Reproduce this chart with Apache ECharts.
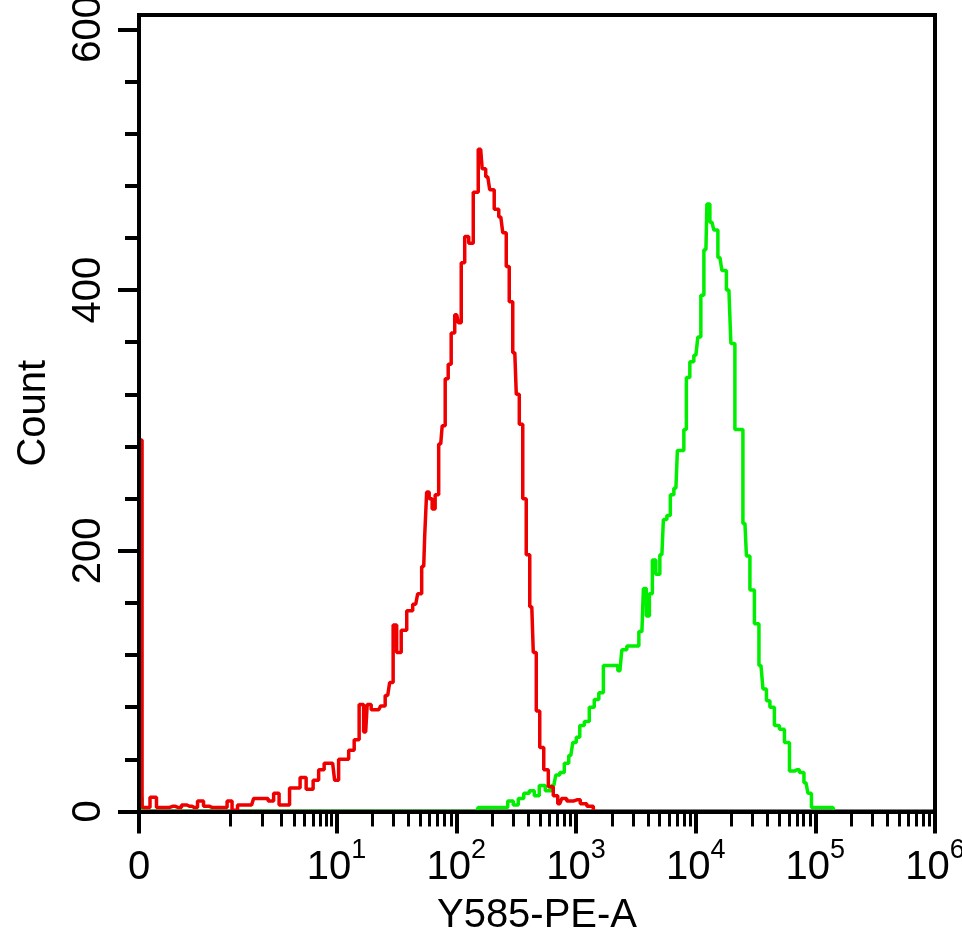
<!DOCTYPE html>
<html>
<head>
<meta charset="utf-8">
<script src="https://cdn.jsdelivr.net/npm/echarts@6/dist/echarts.min.js"></script>
<style>
  html, body { margin: 0; padding: 0; background: #fff; }
  #chart { width: 962px; height: 941px; }
</style>
</head>
<body>
<div id="chart"></div>
<script>
// x is a display scale in decades: "0" sits at 0, 10^k sits at k + zeroOffset
const zeroOffset = 0.651;
const tickExponents = [0, 1, 2, 3, 4, 5, 6];   // 0 means the "0" label
const countTicks = [0, 200, 400, 600];
const countMinorTicks = [40, 80, 120, 160, 240, 280, 320, 360, 440, 480, 520, 560];

// unstained / isotype control (red)
const redX = [0, 0.013, 0.038, 0.063, 0.121, 0.171, 0.222, 0.280, 0.330, 0.380, 0.422, 0.464,
  0.514, 0.564, 0.615, 0.665, 0.715, 0.757, 0.798, 0.849, 0.899, 0.941, 0.974, 1.024, 1.058,
  1.100, 1.150, 1.191, 1.233, 1.283, 1.325, 1.367, 1.426, 1.484, 1.518, 1.576, 1.618, 1.651,
  1.685, 1.727, 1.777, 1.819, 1.860, 1.894, 1.919, 1.961, 2.003, 2.036, 2.078, 2.111, 2.136,
  2.170, 2.212, 2.262, 2.312, 2.345, 2.379, 2.395, 2.412, 2.437, 2.462, 2.487, 2.521, 2.546,
  2.571, 2.596, 2.621, 2.655, 2.680, 2.705, 2.738, 2.772, 2.814, 2.855, 2.880, 2.914, 2.947,
  2.989, 3.023, 3.056, 3.081, 3.106, 3.140, 3.165, 3.190, 3.223, 3.248, 3.282, 3.307, 3.332,
  3.365, 3.399, 3.441, 3.482, 3.516, 3.549, 3.599, 3.658, 3.717, 3.767, 3.825];
const redCount = [0, 285, 3, 3, 11, 3, 3, 4, 3, 5, 4, 3,
  8, 4, 3, 3, 3, 8, 1, 5, 5, 5, 10, 10, 10,
  8, 14, 5, 5, 18, 18, 26, 17, 24, 32, 37, 37, 24,
  40, 40, 47, 55, 82, 61, 82, 78, 78, 81, 89, 99, 143,
  122, 139, 154, 159, 167, 188, 211, 245, 240, 232, 243, 282, 296,
  332, 343, 367, 381, 375, 421, 441, 436, 475, 508, 493, 487, 477,
  462, 456, 444, 418, 391, 352, 320, 297, 240, 197, 157, 122, 77,
  49, 32, 19, 12, 6, 10, 8, 9, 6, 4, 0];

// stained sample (green)
const greenX = [0, 0.013, 0.038, 2.820, 2.847, 2.931, 3.056, 3.106, 3.148, 3.190, 3.240, 3.282,
  3.324, 3.365, 3.424, 3.466, 3.499, 3.533, 3.574, 3.608, 3.641, 3.666, 3.700, 3.742, 3.783,
  3.825, 3.859, 3.901, 3.942, 3.984, 4.018, 4.051, 4.101, 4.151, 4.202, 4.227, 4.252, 4.277,
  4.302, 4.335, 4.369, 4.394, 4.427, 4.452, 4.486, 4.511, 4.544, 4.561, 4.586, 4.619, 4.653,
  4.686, 4.703, 4.737, 4.753, 4.787, 4.820, 4.854, 4.887, 4.929, 4.962, 4.996, 5.029, 5.063,
  5.088, 5.121, 5.163, 5.197, 5.230, 5.255, 5.288, 5.330, 5.372, 5.414, 5.456, 5.497, 5.539,
  5.573, 5.606, 5.631, 5.715, 5.798, 5.823];
const greenCount = [0, 11, 0, 0, 3, 3, 3, 8, 5, 10, 14, 16,
  12, 20, 16, 20, 28, 30, 37, 43, 53, 57, 66, 69, 80,
  86, 91, 112, 112, 112, 108, 124, 127, 127, 138, 171, 150, 167,
  193, 182, 197, 224, 227, 243, 248, 277, 277, 293, 333, 345, 350,
  364, 396, 431, 466, 452, 446, 425, 415, 400, 359, 293, 293, 221,
  196, 170, 144, 112, 94, 85, 80, 66, 63, 53, 31, 32, 30,
  22, 14, 3, 3, 3, 0];

const FONT = '"Liberation Sans", Arial, sans-serif';
const xMax = 6 + zeroOffset;

const majorPos = tickExponents.map(k => k === 0 ? 0 : k + zeroOffset);
const minorPos = [];
// 1..9 in the compressed region near zero
for (let m = 1; m <= 9; m++) minorPos.push(0.765 + 0.886 * Math.log10(m));
for (let k = 1; k <= 5; k++) {
  for (let m = 2; m <= 9; m++) minorPos.push(k + zeroOffset + Math.log10(m));
}

const pairs = (xs, ys) => xs.map((x, i) => [x, ys[i]]);

const baseX = {
  type: 'value', min: 0, max: xMax, position: 'bottom', z: 5,
  splitLine: { show: false }
};
const baseY = {
  type: 'value', min: 0, max: 611, position: 'left', z: 5,
  splitLine: { show: false }
};

const chart = echarts.init(document.getElementById('chart'));
chart.setOption({
  animation: false,
  grid: {
    left: 139, right: 27, top: 15, bottom: 129.5,
    outerBoundsMode: 'none',
    containLabel: false,
    show: true, borderColor: '#000', borderWidth: 4, backgroundColor: '#fff'
  },
  xAxis: [
    Object.assign({}, baseX, {
      name: 'Y585-PE-A',
      nameLocation: 'middle',
      nameGap: 84,
      nameTextStyle: { color: '#000', fontSize: 40, fontFamily: FONT },
      axisLine: { lineStyle: { color: '#000', width: 4 } },
      axisTick: { customValues: majorPos, length: 22, lineStyle: { color: '#000', width: 4 } },
      axisLabel: {
        customValues: majorPos,
        margin: 26,
        color: '#000',
        fontFamily: FONT,
        formatter: v => {
          const k = Math.round(v - zeroOffset);
          if (v < 0.5) return '{b|0}';
          return '{b|10}{e|' + k + '}';
        },
        rich: {
          b: { fontSize: 40, lineHeight: 50, fontFamily: FONT, color: '#000', verticalAlign: 'bottom' },
          e: { fontSize: 27, lineHeight: 30, fontFamily: FONT, color: '#000', verticalAlign: 'top' }
        }
      }
    }),
    Object.assign({}, baseX, {
      axisLine: { show: false },
      axisTick: { customValues: minorPos, length: 15, lineStyle: { color: '#000', width: 3 } },
      axisLabel: { show: false }
    })
  ],
  yAxis: [
    Object.assign({}, baseY, {
      name: 'Count',
      nameLocation: 'middle',
      nameRotate: 90,
      nameGap: 85,
      nameTextStyle: { color: '#000', fontSize: 40, fontFamily: FONT },
      axisLine: { lineStyle: { color: '#000', width: 4 } },
      axisTick: { customValues: countTicks, length: 21, lineStyle: { color: '#000', width: 4 } },
      axisLabel: {
        customValues: countTicks,
        rotate: 90,
        margin: 30,
        color: '#000',
        fontSize: 40,
        fontFamily: FONT
      }
    }),
    Object.assign({}, baseY, {
      axisLine: { show: false },
      axisTick: { customValues: countMinorTicks, length: 14, lineStyle: { color: '#000', width: 4 } },
      axisLabel: { show: false }
    })
  ],
  series: [
    {
      name: 'stained', type: 'line', step: 'middle', symbol: 'none',
      xAxisIndex: 0, yAxisIndex: 0, z: 2,
      lineStyle: { color: '#00ee00', width: 3.5 },
      data: pairs(greenX, greenCount)
    },
    {
      name: 'control', type: 'line', step: 'middle', symbol: 'none',
      xAxisIndex: 0, yAxisIndex: 0, z: 3,
      lineStyle: { color: '#ee0000', width: 3.5 },
      data: pairs(redX, redCount)
    }
  ]
});
</script>
</body>
</html>
